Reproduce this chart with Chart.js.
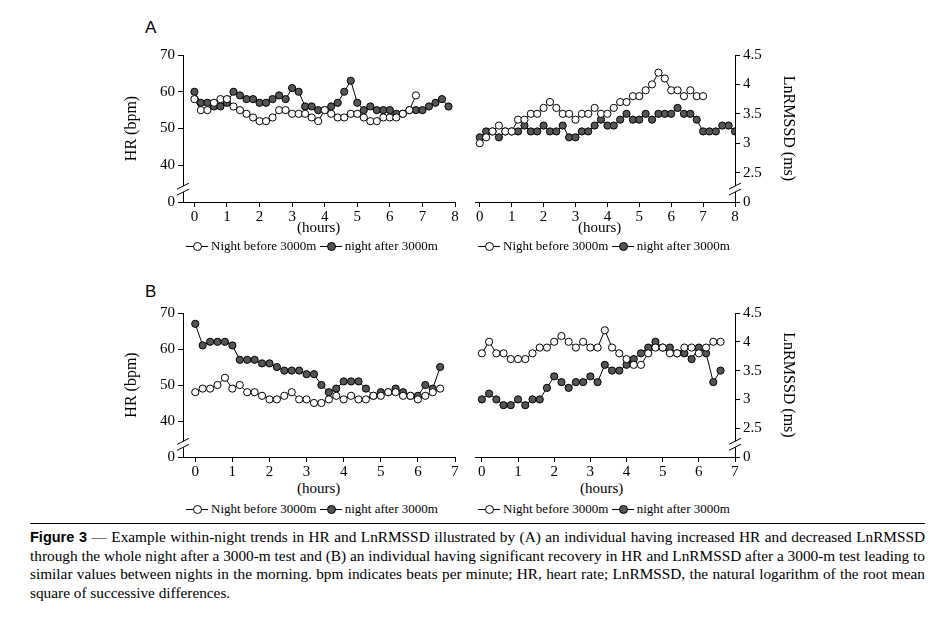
<!DOCTYPE html>
<html><head><meta charset="utf-8">
<script src="https://cdn.jsdelivr.net/npm/chart.js@4"></script>
<style>
body{margin:0;background:#fff;width:936px;height:618px;position:relative;font-family:"Liberation Serif",serif;color:#000}
canvas{position:absolute}
.t{position:absolute;font-size:15px;white-space:nowrap}
.lab{position:absolute;font-family:"Liberation Sans",sans-serif;font-size:17px}
.leg{position:absolute;font-size:13px;white-space:nowrap;display:flex;align-items:center}
.ln{display:inline-block;width:22px;height:1px;background:#000;position:relative;margin-right:3px}
.ln i{position:absolute;left:7px;top:-4px;width:7px;height:7px;border:1px solid #000;border-radius:50%;background:#fff}
.ln.f i{background:#555}
#cap{position:absolute;left:30px;top:528px;width:895px;font-size:15.3px;line-height:18.5px;text-align:justify}
#cap b{font-family:"Liberation Sans",sans-serif;font-size:14.5px}
</style></head><body>
<div class="lab" style="left:145px;top:18px">A</div>
<div class="lab" style="left:145px;top:282px">B</div>
<canvas id="aL" style="left:120px;top:40px" width="345" height="185"></canvas>
<canvas id="aR" style="left:470px;top:40px" width="330" height="185"></canvas>
<canvas id="bL" style="left:120px;top:298px" width="345" height="182"></canvas>
<canvas id="bR" style="left:470px;top:298px" width="330" height="182"></canvas>
<div class="t" style="left:297px;top:219px">(hours)</div>
<div class="t" style="left:578px;top:219px">(hours)</div>
<div class="t" style="left:297px;top:480px">(hours)</div>
<div class="t" style="left:580px;top:480px">(hours)</div>
<div class="leg" style="left:186px;top:238px"><span class="ln"><i></i></span>Night before 3000m&nbsp;<span class="ln f"><i></i></span>night after 3000m</div>
<div class="leg" style="left:478px;top:238px"><span class="ln"><i></i></span>Night before 3000m&nbsp;<span class="ln f"><i></i></span>night after 3000m</div>
<div class="leg" style="left:186px;top:501px"><span class="ln"><i></i></span>Night before 3000m&nbsp;<span class="ln f"><i></i></span>night after 3000m</div>
<div class="leg" style="left:478px;top:501px"><span class="ln"><i></i></span>Night before 3000m&nbsp;<span class="ln f"><i></i></span>night after 3000m</div>
<div style="position:absolute;left:30px;top:523px;width:895px;height:1px;background:#000"></div>
<div id="cap"><b>Figure 3</b> — Example within-night trends in HR and LnRMSSD illustrated by (A) an individual having increased HR and decreased LnRMSSD through the whole night after a 3000-m test and (B) an individual having significant recovery in HR and LnRMSSD after a 3000-m test leading to similar values between nights in the morning. bpm indicates beats per minute; HR, heart rate; LnRMSSD, the natural logarithm of the root mean square of successive differences.</div>
<script>
// time (hours), one sample per 0.2 h
const timesA = [0,0.2,0.4,0.6,0.8,1,1.2,1.4,1.6,1.8,2,2.2,2.4,2.6,2.8,3,3.2,3.4,3.6,3.8,4,4.2,4.4,4.6,4.8,5,5.2,5.4,5.6,5.8,6,6.2,6.4,6.6,6.8,7,7.2,7.4,7.6,7.8,8];
const timesB = [0,0.2,0.4,0.6,0.8,1,1.2,1.4,1.6,1.8,2,2.2,2.4,2.6,2.8,3,3.2,3.4,3.6,3.8,4,4.2,4.4,4.6,4.8,5,5.2,5.4,5.6,5.8,6,6.2,6.4,6.6];
const ticksA = [0,1,2,3,4,5,6,7,8];
const ticksB = [0,1,2,3,4,5,6,7];
const hrTicks = [30,40,50,60,70];      // 30 is shown as 0 (axis break)
const lnTicks = [2,2.5,3,3.5,4,4.5];   // 2 is shown as 0 (axis break)

const hrBeforeA = [58,55,55,57,58,58,56,55,54,53,52,52,53,55,55,54,54,54,53,52,55,54,53,53,54,54,53,52,52,53,53,53,54,55,59];
const hrAfterA  = [60,57,57,56,56,57,60,59,58,58,57,57,58,59,58,61,60,56,56,55,55,56,57,60,63,57,55,56,55,55,55,54,54,55,55,55,56,57,58,56];
const lnBeforeA = [3.0,3.1,3.2,3.3,3.2,3.2,3.4,3.4,3.5,3.5,3.6,3.7,3.6,3.5,3.5,3.4,3.5,3.5,3.6,3.5,3.5,3.6,3.7,3.7,3.8,3.8,3.9,4.0,4.2,4.1,3.9,3.9,3.8,3.9,3.8,3.8];
const lnAfterA  = [3.1,3.2,3.2,3.1,3.2,3.2,3.2,3.3,3.2,3.2,3.3,3.2,3.2,3.3,3.1,3.1,3.2,3.2,3.3,3.4,3.3,3.3,3.4,3.5,3.4,3.4,3.5,3.4,3.5,3.5,3.5,3.6,3.5,3.5,3.4,3.2,3.2,3.2,3.3,3.3,3.2];
const hrBeforeB = [48,49,49,50,52,49,50,48,48,47,46,46,47,48,46,46,45,45,46,47,46,47,46,46,47,47,48,48,47,47,46,47,48,49];
const hrAfterB  = [67,61,62,62,62,61,57,57,57,56,56,55,54,54,54,53,53,50,48,49,51,51,51,49,47,48,48,49,48,47,47,50,49,55];
const lnBeforeB = [3.8,4.0,3.8,3.8,3.7,3.7,3.7,3.8,3.9,3.9,4.0,4.1,4.0,3.9,4.0,3.9,3.9,4.2,3.9,3.8,3.7,3.6,3.6,3.8,3.9,3.9,3.8,3.8,3.9,3.9,3.8,3.9,4.0,4.0];
const lnAfterB  = [3.0,3.1,3.0,2.9,2.9,3.0,2.9,3.0,3.0,3.2,3.4,3.3,3.2,3.3,3.3,3.4,3.3,3.6,3.5,3.5,3.6,3.7,3.8,3.9,4.0,3.9,3.9,3.8,3.8,3.7,3.9,3.8,3.3,3.5];

const font = {family: "Liberation Serif", size: 15};
const titleFont = {family: "Liberation Serif", size: 16};
function pts(t, v) { return v.map((y, i) => ({x: t[i], y: y})); }
function ds(t, v, filled) {
  return {data: pts(t, v), borderColor: "#000", borderWidth: 1,
    backgroundColor: filled ? "#555" : "#fff", pointBorderColor: "#000",
    pointBorderWidth: 1, pointRadius: 3.6, tension: 0};
}
// draws the // axis break marks
const breakMarks = {
  id: "breakMarks",
  afterDraw(c, args, o) {
    const y = c.scales.y, ctx = c.ctx;
    const px = o.right ? c.chartArea.right : c.chartArea.left;
    const py = y.getPixelForValue(o.at);
    ctx.save();
    ctx.fillStyle = "#fff";
    ctx.fillRect(px - 6, py - 3, 12, 6);
    ctx.strokeStyle = "#000"; ctx.lineWidth = 1;
    [-3, 3].forEach(d => {
      ctx.beginPath(); ctx.moveTo(px - 6, py + d + 3); ctx.lineTo(px + 6, py + d - 3); ctx.stroke();
    });
    ctx.restore();
  }
};
function make(id, times, a, b, xmin, xmax, xt, right) {
  const yt = right ? lnTicks : hrTicks;
  new Chart(document.getElementById(id), {
    type: "line",
    data: {datasets: [ds(times, a, false), ds(times, b, true)]},
    plugins: [breakMarks],
    options: {
      responsive: false, animation: false,
      layout: {padding: {top: 15, right: right ? 0 : 10}},
      plugins: {legend: {display: false}, tooltip: {enabled: false},
        breakMarks: {right: right, at: right ? 2.22 : 33.5}},
      scales: {
        x: {type: "linear", min: xmin, max: xmax,
          afterBuildTicks: s => { s.ticks = xt.map(v => ({value: v})); },
          afterFit: s => { s.height = 23; },
          grid: {drawOnChartArea: false, color: "#000", tickLength: 5},
          border: {color: "#000"},
          ticks: {font: font, color: "#000", padding: 1, maxRotation: 0}},
        y: {position: right ? "right" : "left",
          min: yt[0], max: yt[yt.length - 1],
          afterBuildTicks: s => { s.ticks = yt.map(v => ({value: v})); },
          afterFit: s => { s.width = right ? 65 : 63; },
          grid: {drawOnChartArea: false, color: "#000", tickLength: 5},
          border: {color: "#000"},
          title: {display: true, text: right ? "LnRMSSD (ms)" : "HR (bpm)", font: titleFont, color: "#000", padding: 2},
          ticks: {font: font, color: "#000", padding: 3,
            callback: v => v === yt[0] ? "0" : v}}
      }
    }
  });
}
make("aL", timesA, hrBeforeA, hrAfterA, -0.35, 8, ticksA, false);
make("aR", timesA, lnBeforeA, lnAfterA, -0.15, 8, ticksA, true);
make("bL", timesB, hrBeforeB, hrAfterB, -0.33, 7, ticksB, false);
make("bR", timesB, lnBeforeB, lnAfterB, -0.19, 7, ticksB, true);
</script>
</body></html>
